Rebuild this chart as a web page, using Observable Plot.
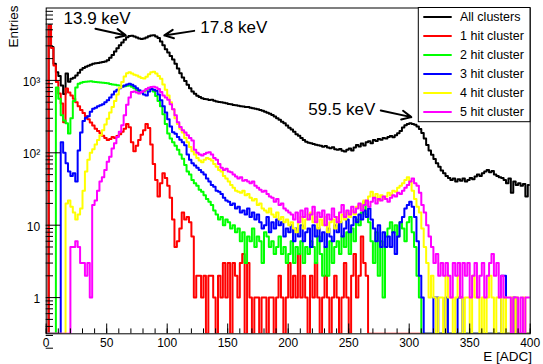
<!DOCTYPE html>
<html><head><meta charset="utf-8">
<script src="https://cdn.jsdelivr.net/npm/d3@7"></script>
<script src="https://cdn.jsdelivr.net/npm/@observablehq/plot@0.6"></script>
<style>body{margin:0;background:#fff} svg{display:block}</style>
</head><body>
<script>
// Histogram bins: bin i covers [2i, 2i+2) ADC
const binWidth = 2;

const allClusters = [
0,5800,2900,1700,1300,1150,850,650,1250,960,1050,1090,1170,1280,1400,1480,1540,1590,1650,1700,
1720,1740,1770,1790,1820,1900,2050,2250,2500,2780,3050,3350,3650,3950,4100,4150,4050,3900,3780,3720,
3780,3920,4080,4180,4200,4050,3850,3450,3050,2700,2420,2180,1950,1700,1460,1260,1100,980,870,780,
700,652,612,590,568,555,548,535,540,522,510,505,498,490,484,472,468,458,452,448,
440,435,428,430,418,412,405,400,390,382,370,358,345,332,318,300,285,268,255,238,
222,210,195,180,172,160,150,142,138,135,132,129,127,125,121,124,118,116,119,112,
110,113,107,104,110,115,108,118,128,122,134,126,140,144,136,150,146,155,151,160,
157,165,170,164,175,186,200,224,240,250,255,250,244,230,214,188,158,128,108,94,
82,72,64,57,52,48,45,42,44,40,43,41,44,40,42,45,43,47,50,48,
52,55,58,54,56,50,48,46,45,42,38,44,28,40,36,38,35,37,25,36];

const hit1 = [
0,5700,2800,1600,950,660,480,265,770,680,620,560,500,440,390,355,320,290,262,238,
215,200,186,172,160,150,155,165,160,170,180,195,215,250,225,140,105,125,150,178,
205,250,220,130,70,42,25,38,52,45,35,24,12,5,6,9,15,12,13,11,
7,1,2,2,1,2,0,2,2,1,0,2,1,3,1,3,0,3,2,1,
3,4,0,3,1,0,1,1,0,1,1,0,1,1,0,1,2,1,0,1,
3,1,2,1,4,1,2,1,0,2,1,3,1,0,1,2,1,0,1,2,
1,0,1,3,1,0,2,4,1,2,7,3,2,0,0,0,0,0,0,0,
0,0,0,0,0,0,0,0,0,0,0,0,0,0,0,0,0,0,0,0,
0,0,0,0,0,0,0,0,0,0,0,0,0,0,0,0,0,0,0,0,
0,0,0,0,0,0,0,0,0,0,0,0,0,0,0,0,0,0,0,0];

const hit2 = [
0,0,0,0,800,560,330,280,255,185,300,520,800,900,930,950,960,965,970,960,
950,945,935,930,920,910,895,880,870,860,850,840,830,845,850,820,780,735,700,680,
700,740,775,760,700,610,520,440,340,250,185,158,140,125,110,95,83,68,55,50,
42,38,35,31,29,26,23,21,19,16,14,12,13,10,12,11,9,10,8,9,
6,8,3,7,6,9,5,7,6,3,8,7,5,6,4,5,7,4,5,3,
4,6,3,5,4,6,3,5,4,6,5,3,7,4,2,5,2,6,3,5,
6,4,7,5,8,4,9,6,12,10,15,21,14,11,6,3,8,2,6,1,
7,9,11,8,10,7,11,9,6,11,13,8,5,2,1,0,0,0,0,0,
0,0,0,0,0,0,0,0,0,0,0,0,0,0,0,0,0,0,0,0,
0,0,0,0,0,0,0,0,0,0,0,0,0,0,0,0,0,0,0,0];

const hit3 = [
0,0,0,0,0,0,140,100,72,55,48,52,40,108,190,275,305,320,370,405,
420,440,455,470,500,530,580,640,700,740,780,815,850,880,900,870,830,780,730,690,
640,620,700,760,740,720,640,530,440,360,290,230,193,184,165,152,140,127,95,80,
72,67,62,58,54,50,44,40,36,34,30,29,27,24,22,21,19,20,17,18,
15,16,14,17,13,15,12,14,11,9,10,13,8,11,9,12,10,11,7,9,
8,10,6,9,7,10,6,8,9,5,10,7,9,6,8,5,9,7,6,10,
8,11,7,9,12,8,10,13,11,14,12,16,13,17,12,9,6,10,5,8,
5,7,5,8,4,7,11,13,17,19,21,18,13,6,2,1,0,0,0,0,
1,1,0,0,0,1,0,0,0,0,1,1,0,0,0,0,0,0,0,0,
0,0,0,0,0,0,0,0,2,2,0,0,0,1,0,0,0,0,0,0];

const hit4 = [
0,0,0,0,0,0,0,0,20,22,18,15,12,14,17,30,55,80,100,112,
130,150,175,205,245,295,360,430,520,640,790,950,1130,1260,1300,1250,1200,1170,1120,1080,
1060,1120,1220,1300,1320,1250,1150,1050,880,740,620,500,400,300,250,215,190,160,140,120,
105,95,85,78,74,80,85,82,78,70,64,58,55,48,44,40,36,33,30,29,
28,30,26,27,24,22,23,19,20,17,16,15,17,14,13,15,12,13,11,12,
10,11,9,8,11,13,9,12,14,15,11,13,9,12,10,13,8,11,12,9,
13,11,14,12,15,13,16,14,18,19,17,22,20,25,29,24,27,22,26,23,
25,28,26,30,29,33,35,38,42,46,40,30,23,18,15,9,5,3,1,2,
1,0,1,1,0,2,1,1,0,1,2,1,0,1,1,0,2,1,1,0,
1,0,1,2,1,0,1,1,0,1,0,0,1,0,1,0,0,1,0,0];

const hit5 = [
0,0,0,0,0,0,0,0,0,0,5,5,6,5,3,3,2,3,1,19,
22,30,40,46,58,75,88,115,135,165,195,240,330,460,580,690,700,680,660,690,
720,760,790,810,820,800,760,690,620,580,540,470,400,330,265,228,205,190,175,160,
148,110,100,95,92,96,100,102,95,85,80,70,62,58,60,55,54,50,47,44,
46,41,42,40,38,40,35,33,31,29,30,27,25,24,21,23,19,20,17,16,
15,14,12,15,11,16,13,17,12,14,18,11,15,13,16,10,14,12,17,13,
11,15,19,13,16,14,18,15,17,20,16,19,22,18,21,24,20,23,22,25,
23,21,24,26,25,28,27,30,33,36,40,44,38,35,28,19,15,10,7,5,
3,4,2,3,2,3,2,1,3,2,3,1,3,2,3,1,2,3,1,2,
3,1,2,3,4,2,3,1,2,1,1,1,0,1,1,0,1,0,1,1];

const seriesNames = ["All clusters","1 hit cluster","2 hit cluster","3 hit cluster","4 hit cluster","5 hit cluster"];
const seriesColors = ["#000000","#ff0000","#00ff00","#0000ff","#ffff00","#ff00ff"];
const seriesValues = [allClusters, hit1, hit2, hit3, hit4, hit5];

const xMajorTicks = [0,50,100,150,200,250,300,350,400];
const xMinorTicks = d3.range(0, 401, 10);
const yMajorTicks = [1,10,100,1000];
const yTickLabels = ["1","10","10²","10³"];
const yMinorTicks = [];
[0.1,1,10,100,1000].forEach(d => { for (let k = 2; k <= 9; k++) yMinorTicks.push(k*d); });

const annotations = [
  {label:"13.9 keV", tx:14.3, ty:6030, x1:40.7, y1:5180, x2:65.8, y2:4183},
  {label:"17.8 keV", tx:127.3, ty:4460, x1:122.3, y1:4830, x2:97.6, y2:4183},
  {label:"59.5 keV", tx:216.6, ty:328, x1:276.5, y1:385, x2:301.8, y2:311}
];

const yMin = Math.pow(10, -0.5), yMax = 1e4;
function steps(values) {
  const pts = values.map((v, i) => ({x: i*binWidth, y: v > 0 ? v : yMin}));
  pts.push({x: values.length*binWidth, y: pts[pts.length-1].y});
  return pts;
}

const font = "'Liberation Sans', Arial, Helvetica, sans-serif";
const lineMarks = seriesValues.map((vals, i) =>
  Plot.line(steps(vals), {x: "x", y: "y", curve: "step-after", stroke: seriesColors[i], strokeWidth: 2, clip: true}));

const chart = Plot.plot({
  width: 543, height: 364,
  marginLeft: 45.7, marginRight: 13.3, marginTop: 7.5, marginBottom: 30.7,
  style: {fontFamily: font, fontSize: "12px", background: "white", color: "black"},
  x: {domain: [0, 400]},
  y: {type: "log", domain: [yMin, yMax]},
  marks: [
    ...lineMarks,
    Plot.frame({stroke: "black", strokeWidth: 1}),
    Plot.axisX(xMinorTicks, {anchor: "bottom", tickSize: -4.9, tickFormat: () => "", label: null}),
    Plot.axisX(xMajorTicks, {anchor: "bottom", tickSize: -9.8, tickFormat: () => "", label: null}),
    Plot.axisX(xMajorTicks, {anchor: "bottom", tickSize: 0, tickPadding: 5, fontSize: 12, label: null, tickFormat: d => String(d)}),
    Plot.axisY(yMinorTicks, {anchor: "left", tickSize: -7.3, tickFormat: () => "", label: null}),
    Plot.axisY(yMajorTicks, {anchor: "left", tickSize: -14.5, tickFormat: () => "", label: null}),
    Plot.axisY(yMajorTicks, {anchor: "left", tickSize: 0, tickPadding: 6, fontSize: 12, dy: 1.5, label: null,
      tickFormat: d => yTickLabels[yMajorTicks.indexOf(d)]}),
    Plot.text(["Entries"], {frameAnchor: "top-left", text: d => d, rotate: -90, textAnchor: "end", lineAnchor: "bottom", dx: -28.7, dy: -2.5, fontSize: 13.5}),
    Plot.text(["E [ADC]"], {frameAnchor: "bottom-right", text: d => d, textAnchor: "end", lineAnchor: "bottom", dx: 1.7, dy: 26.7, fontSize: 13.5}),
    Plot.arrow(annotations, {x1: "x1", y1: "y1", x2: "x2", y2: "y2", stroke: "black", strokeWidth: 2, headLength: 9, headAngle: 50}),
    Plot.text(annotations, {x: "tx", y: "ty", text: "label", textAnchor: "start", lineAnchor: "bottom", fontSize: 17})
  ]
});

// Legend inside the frame (top right)
const svg = d3.select(chart);
const lg = svg.append("g").attr("font-family", font).attr("font-size", 12.5).attr("text-anchor", "start");
lg.append("rect").attr("x", 418.3).attr("y", 7.5).attr("width", 111.7).attr("height", 114.2)
  .attr("fill", "white").attr("stroke", "black").attr("stroke-width", 1);
seriesNames.forEach((name, i) => {
  const y = 17 + 19 * i;
  lg.append("line").attr("x1", 423.3).attr("x2", 451.7).attr("y1", y).attr("y2", y)
    .attr("stroke", seriesColors[i]).attr("stroke-width", 2);
  lg.append("text").attr("x", 460).attr("y", y).attr("dy", "0.35em").attr("text-anchor", "start")
    .attr("fill", "black").text(name);
});

document.body.appendChild(chart);
</script>
</body></html>
